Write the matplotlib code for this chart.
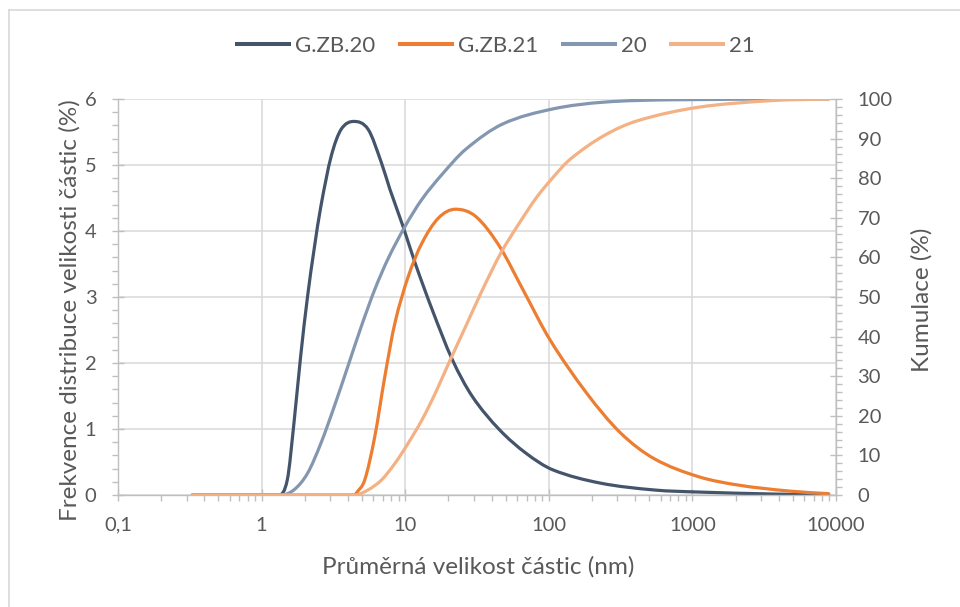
"""Particle size distribution (frequency + cumulative), log x axis."""

import numpy as np
import matplotlib
matplotlib.use("Agg")
import matplotlib.pyplot as plt
from matplotlib.lines import Line2D
from matplotlib.path import Path
from matplotlib.patches import PathPatch
from matplotlib.ticker import LogLocator, FixedLocator, MultipleLocator, FuncFormatter

# G.ZB.20 frequency (%), left axis
x_f20 = [0.33, 1.32, 1.51, 1.68, 1.87, 2.09, 2.32, 2.59, 3.05, 3.58, 4.38, 5.52, 6.84, 7.83,
         9.73, 11.7, 15.4, 21.3, 29.4, 45.3, 69.7, 107, 229, 542, 1094, 3590, 8900]
y_f20 = [0, 0, 0.23, 1.09, 2.10, 3.01, 3.72, 4.38, 5.13, 5.54, 5.66, 5.54, 5.03, 4.63,
         4.05, 3.52, 2.81, 2.05, 1.49, 0.99, 0.63, 0.38, 0.18, 0.076, 0.045, 0.015, 0]

# G.ZB.21 frequency (%), left axis
x_f21 = [0.33, 4.45, 4.57, 5.23, 6.14, 7.22, 8.49, 10.5, 13.1, 17.1, 22.4, 31.0, 45.3,
         66.1, 102, 184, 316, 542, 1094, 2090, 4700, 8900]
y_f21 = [0, 0, 0.03, 0.23, 0.885, 1.80, 2.61, 3.31, 3.82, 4.20, 4.33, 4.22, 3.77,
         3.11, 2.35, 1.54, 0.94, 0.55, 0.28, 0.15, 0.06, 0.02]

# 20 cumulative (%), right axis
x_c20 = [0.33, 1.36, 1.68, 2.09, 2.59, 3.21, 3.99, 4.95, 6.14, 7.63, 10, 13.1, 18.1,
         26.4, 47.8, 107, 241, 710, 8900]
y_c20 = [0, 0, 1.3, 5.5, 13.1, 22.4, 32.5, 42.6, 51.9, 59.8, 67.9, 74.7, 81.0,
         87.3, 93.7, 97.5, 99.2, 99.8, 100]

# 21 cumulative (%), right axis
x_c21 = [0.33, 4.45, 5.52, 6.84, 8.49, 10.5, 13.1, 16.2, 20.1, 26.4, 34.6, 46.5, 62.7,
         82, 107, 141, 241, 414, 1094, 3590, 8900]
y_c21 = [0, 0, 1.3, 3.8, 8.0, 13.1, 19.0, 25.7, 33.3, 42.6, 51.9, 61.2, 68.8,
         75.1, 80.2, 84.8, 90.7, 94.5, 97.9, 99.6, 100]

labels = ["G.ZB.20", "G.ZB.21", "20", "21"]
colors = ["#44546A", "#ED7D31", "#8497B0", "#F4B183"]

TXT = "#595959"
AXC = "#BFBFBF"
GRID = "#D9D9D9"
plt.rcParams["font.family"] = ["Lato", "DejaVu Sans"]


def smooth_line(ax, xs, ys, color, lw):
    # excel-style smoothed line: cubic bezier through the points, tangents in log-x space
    u = np.log10(xs)
    y = np.asarray(ys, float)
    h = np.diff(u)
    d = np.diff(y) / h
    m = np.zeros_like(y)
    m[0], m[-1] = d[0], d[-1]
    for k in range(1, len(y) - 1):
        if d[k - 1] * d[k] > 0:
            c = (y[k + 1] - y[k - 1]) / (u[k + 1] - u[k - 1])
            lim = 3 * min(abs(d[k - 1]), abs(d[k]))
            m[k] = np.sign(c) * min(abs(c), lim)
    verts = [(u[0], y[0])]
    codes = [Path.MOVETO]
    for k in range(len(h)):
        verts += [(u[k] + h[k] / 3, y[k] + m[k] * h[k] / 3),
                  (u[k + 1] - h[k] / 3, y[k + 1] - m[k + 1] * h[k] / 3),
                  (u[k + 1], y[k + 1])]
        codes += [Path.CURVE4] * 3
    verts = [(10 ** a, b) for a, b in verts]
    ax.add_patch(PathPatch(Path(verts, codes), fill=False, edgecolor=color, lw=lw,
                           capstyle="round", joinstyle="round"))


fig = plt.figure(figsize=(9.6, 6.07), dpi=100)
ax = fig.add_axes([118 / 960, 1 - 495 / 607, (836 - 118) / 960, (495 - 99) / 607])
ax2 = ax.twinx()

lw = 2.3
smooth_line(ax, x_f20, y_f20, colors[0], lw)
smooth_line(ax, x_f21, y_f21, colors[1], lw)
smooth_line(ax2, x_c20, y_c20, colors[2], lw)
smooth_line(ax2, x_c21, y_c21, colors[3], lw)

ax.set_xscale("log")
ax.set_xlim(0.1, 10000)
ax.set_ylim(0, 6)
ax2.set_ylim(0, 100)

ax.xaxis.set_major_locator(FixedLocator([0.1, 1, 10, 100, 1000, 10000]))
ax.xaxis.set_major_formatter(FuncFormatter(lambda v, p: f"{v:g}".replace(".", ",")))
ax.xaxis.set_minor_locator(LogLocator(base=10, subs=range(2, 10), numticks=20))
ax.yaxis.set_major_locator(MultipleLocator(1))
ax.yaxis.set_minor_locator(MultipleLocator(0.2))
ax2.yaxis.set_major_locator(MultipleLocator(10))
ax2.yaxis.set_minor_locator(MultipleLocator(2))

ax.grid(True, which="major", color=GRID, lw=1.1)
ax.set_axisbelow(True)

for a in (ax, ax2):
    for s in a.spines.values():
        s.set_visible(False)
ax.spines["left"].set_visible(True)
ax.spines["bottom"].set_visible(True)
ax2.spines["right"].set_visible(True)
for s in (ax.spines["left"], ax.spines["bottom"], ax2.spines["right"]):
    s.set_color(AXC)
    s.set_linewidth(1.0)

TS = 14.5
ax.tick_params(axis="both", which="major", direction="inout", length=9, width=1,
               color=AXC, labelcolor=TXT, labelsize=TS)
ax.tick_params(axis="both", which="minor", direction="out", length=4.5, width=1, color=AXC)
ax.tick_params(axis="x", which="major", pad=11)
ax.tick_params(axis="y", which="major", pad=11)
ax2.tick_params(axis="y", which="major", direction="inout", length=9, width=1,
                color=AXC, labelcolor=TXT, labelsize=TS, pad=11)
ax2.tick_params(axis="y", which="minor", direction="out", length=4.5, width=1, color=AXC)

LS = 17.5
ax.set_xlabel("Průměrná velikost částic (nm)", color=TXT, fontsize=LS)
ax.set_ylabel("Frekvence distribuce velikosti částic (%)", color=TXT, fontsize=LS)
ax2.set_ylabel("Kumulace (%)", color=TXT, fontsize=LS)
W, H = 836 - 118, 495 - 99
ax.xaxis.set_label_coords((478 - 118) / W, -(567 - 495) / H)
ax.yaxis.set_label_coords(-(118 - 70) / W, (495 - 310) / H)
ax2.yaxis.set_label_coords((922 - 118) / W, (495 - 300) / H)
ax.xaxis.label.set_va("center")
ax.yaxis.label.set_va("center")
ax2.yaxis.label.set_va("center")

handles = [Line2D([0], [0], color=c, lw=lw + 0.6) for c in colors]
fig.legend(handles, labels, loc="center", bbox_to_anchor=(496 / 960, 1 - 46 / 607),
           ncol=4, frameon=False, fontsize=16, labelcolor=TXT,
           handlelength=2.35, handletextpad=0.27, columnspacing=1.1)

# outer chart frame (left and top edges visible)
fig.add_artist(Line2D([9 / 960, 9 / 960], [0, 1 - 9.5 / 607], transform=fig.transFigure,
                      color=GRID, lw=1.2))
fig.add_artist(Line2D([9 / 960, 1], [1 - 9.5 / 607, 1 - 9.5 / 607], transform=fig.transFigure,
                      color=GRID, lw=1.2))

fig.savefig("out.png", dpi=100)
